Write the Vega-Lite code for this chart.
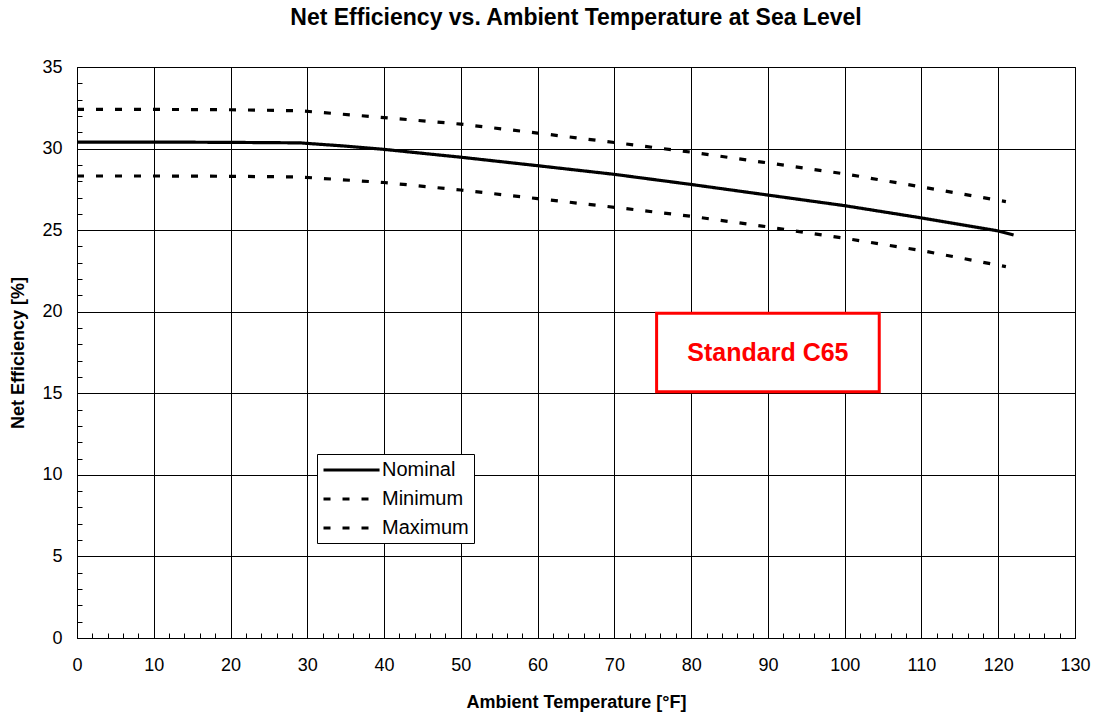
{
  "$schema": "https://vega.github.io/schema/vega-lite/v6.json",
  "width": 998,
  "height": 571,
  "autosize": {"type": "none"},
  "padding": {"left": 77, "top": 67, "right": 19, "bottom": 78},
  "background": "white",
  "title": {
    "text": "Net Efficiency vs. Ambient Temperature at Sea Level",
    "font": "Liberation Sans",
    "fontSize": 23,
    "fontWeight": "bold",
    "color": "black",
    "anchor": "middle",
    "offset": 28
  },
  "config": {
    "font": "Liberation Sans",
    "view": {"stroke": "black", "strokeWidth": 1},
    "axis": {
      "domain": false,
      "labelFont": "Liberation Sans",
      "labelFontSize": 18,
      "labelColor": "black",
      "titleFont": "Liberation Sans",
      "titleFontSize": 18,
      "titleFontWeight": "bold",
      "titleColor": "black",
      "tickColor": "black",
      "tickSize": -5,
      "gridColor": "black",
      "gridWidth": 1
    }
  },
  "layer": [
    {
      "data": {
        "values": [
          {"series": "Nominal", "temp": 0, "eff": 30.4},
          {"series": "Nominal", "temp": 10, "eff": 30.4},
          {"series": "Nominal", "temp": 20, "eff": 30.38},
          {"series": "Nominal", "temp": 29, "eff": 30.35},
          {"series": "Nominal", "temp": 35, "eff": 30.15},
          {"series": "Nominal", "temp": 40, "eff": 29.95},
          {"series": "Nominal", "temp": 50, "eff": 29.47},
          {"series": "Nominal", "temp": 60, "eff": 28.95},
          {"series": "Nominal", "temp": 70, "eff": 28.42},
          {"series": "Nominal", "temp": 80, "eff": 27.8},
          {"series": "Nominal", "temp": 90, "eff": 27.15},
          {"series": "Nominal", "temp": 100, "eff": 26.5},
          {"series": "Nominal", "temp": 110, "eff": 25.75},
          {"series": "Nominal", "temp": 120, "eff": 24.95},
          {"series": "Nominal", "temp": 122, "eff": 24.7},
          {"series": "Minimum", "temp": 0, "eff": 28.32},
          {"series": "Minimum", "temp": 10, "eff": 28.32},
          {"series": "Minimum", "temp": 20, "eff": 28.3},
          {"series": "Minimum", "temp": 29, "eff": 28.26},
          {"series": "Minimum", "temp": 40, "eff": 27.92},
          {"series": "Minimum", "temp": 50, "eff": 27.46},
          {"series": "Minimum", "temp": 60, "eff": 26.93},
          {"series": "Minimum", "temp": 70, "eff": 26.4},
          {"series": "Minimum", "temp": 80, "eff": 25.85},
          {"series": "Minimum", "temp": 90, "eff": 25.2},
          {"series": "Minimum", "temp": 100, "eff": 24.5},
          {"series": "Minimum", "temp": 110, "eff": 23.75},
          {"series": "Minimum", "temp": 121, "eff": 22.76},
          {"series": "Maximum", "temp": 0, "eff": 32.4},
          {"series": "Maximum", "temp": 10, "eff": 32.4},
          {"series": "Maximum", "temp": 20, "eff": 32.38},
          {"series": "Maximum", "temp": 29, "eff": 32.32},
          {"series": "Maximum", "temp": 40, "eff": 31.9},
          {"series": "Maximum", "temp": 50, "eff": 31.5},
          {"series": "Maximum", "temp": 60, "eff": 30.95},
          {"series": "Maximum", "temp": 70, "eff": 30.37},
          {"series": "Maximum", "temp": 80, "eff": 29.78},
          {"series": "Maximum", "temp": 90, "eff": 29.12},
          {"series": "Maximum", "temp": 100, "eff": 28.45},
          {"series": "Maximum", "temp": 110, "eff": 27.65},
          {"series": "Maximum", "temp": 121, "eff": 26.75}
        ]
      },
      "mark": {"type": "line", "color": "black", "strokeWidth": 3.2},
      "encoding": {
        "x": {
          "field": "temp",
          "type": "quantitative",
          "scale": {"domain": [0, 130], "nice": false, "zero": false},
          "axis": {
            "title": "Ambient Temperature [°F]",
            "values": [0,2,4,6,8,10,12,14,16,18,20,22,24,26,28,30,32,34,36,38,40,42,44,46,48,50,52,54,56,58,60,62,64,66,68,70,72,74,76,78,80,82,84,86,88,90,92,94,96,98,100,102,104,106,108,110,112,114,116,118,120,122,124,126,128,130],
            "tickCount": 500,
            "format": "d",
            "labelExpr": "datum.value % 10 === 0 ? datum.label : ''",
            "labelPadding": 23,
            "titlePadding": 19,
            "labelFlush": false,
            "labelOverlap": false,
            "gridOpacity": {"condition": {"test": "datum.value % 10 === 0", "value": 1}, "value": 0}
          }
        },
        "y": {
          "field": "eff",
          "type": "quantitative",
          "scale": {"domain": [0, 35], "nice": false},
          "axis": {
            "title": "Net Efficiency [%]",
            "values": [0,1,2,3,4,5,6,7,8,9,10,11,12,13,14,15,16,17,18,19,20,21,22,23,24,25,26,27,28,29,30,31,32,33,34,35],
            "tickCount": 500,
            "format": "d",
            "labelExpr": "datum.value % 5 === 0 ? datum.label : ''",
            "labelPadding": 20,
            "titlePadding": 14,
            "labelFlush": false,
            "labelOverlap": false,
            "gridOpacity": {"condition": {"test": "datum.value % 5 === 0", "value": 1}, "value": 0}
          }
        },
        "strokeDash": {
          "field": "series",
          "type": "nominal",
          "scale": {"domain": ["Nominal", "Minimum", "Maximum"], "range": [[1, 0], [7, 12], [7, 12]]},
          "legend": {
            "title": null,
            "orient": "none",
            "legendX": 240,
            "legendY": 387,
            "fillColor": "white",
            "strokeColor": "black",
            "padding": 5,
            "symbolType": "M-1,0H4.9",
            "symbolSize": 361,
            "symbolStrokeWidth": 3,
            "symbolStrokeColor": "black",
            "labelFont": "Liberation Sans",
            "labelFontSize": 20,
            "labelColor": "black",
            "labelOffset": 38,
            "rowPadding": 8
          }
        }
      }
    },
    {
      "data": {"values": [{"temp": 75.5, "temp2": 104.5, "eff": 15.1, "eff2": 19.9}]},
      "mark": {"type": "rect", "fill": "white", "stroke": "#ff0000", "strokeWidth": 3},
      "encoding": {
        "x": {"field": "temp", "type": "quantitative"},
        "x2": {"field": "temp2"},
        "y": {"field": "eff", "type": "quantitative"},
        "y2": {"field": "eff2"}
      }
    },
    {
      "data": {"values": [{"temp": 90, "eff": 17.5, "label": "Standard C65"}]},
      "mark": {"type": "text", "color": "#ff0000", "fontSize": 25, "fontWeight": "bold", "font": "Liberation Sans", "align": "center", "baseline": "middle"},
      "encoding": {
        "x": {"field": "temp", "type": "quantitative"},
        "y": {"field": "eff", "type": "quantitative"},
        "text": {"field": "label"}
      }
    }
  ]
}
